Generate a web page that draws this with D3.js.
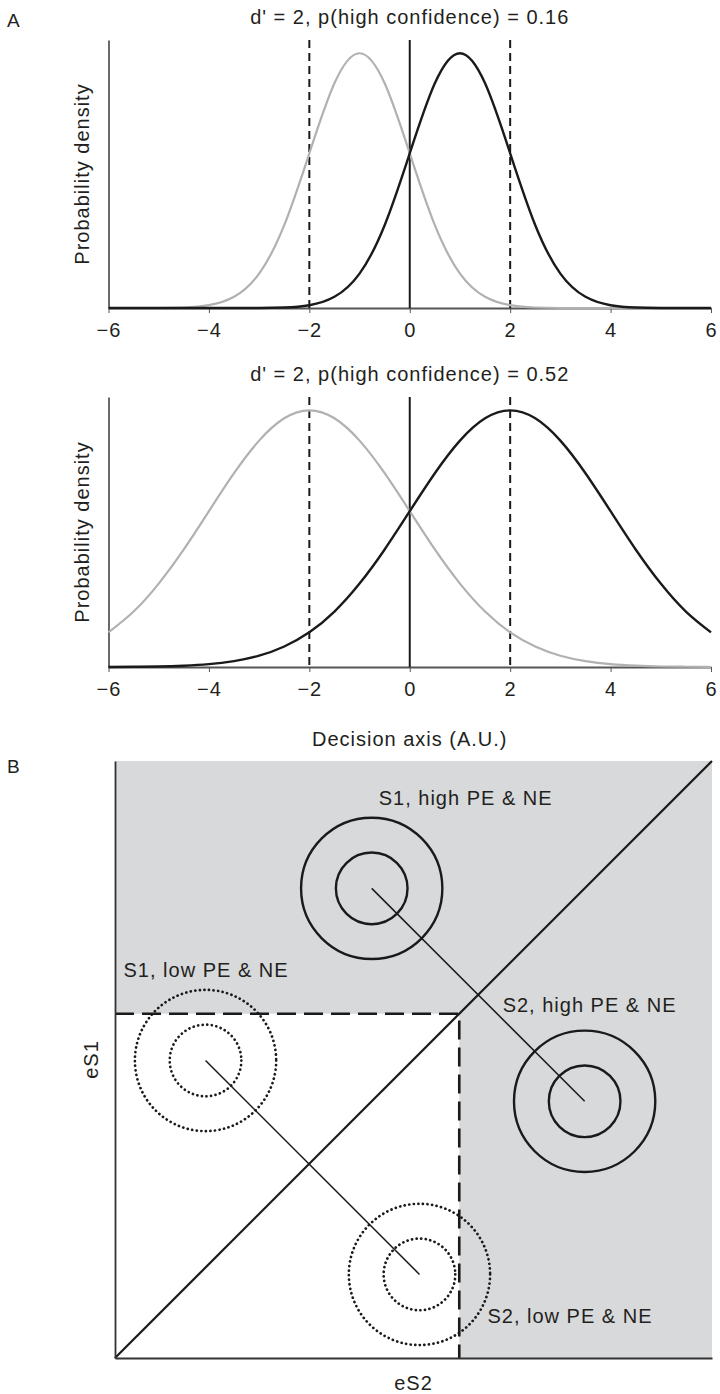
<!DOCTYPE html>
<html>
<head>
<meta charset="utf-8">
<script src="https://cdn.jsdelivr.net/npm/d3@7"></script>
<style>
  body { margin: 0; background: #fff; }
  svg text { font-family: "Liberation Sans", Arial, sans-serif; fill: #231f20; letter-spacing: 1px; }
</style>
</head>
<body>
<div id="chart"></div>
<script>
// Panel A: positions on the decision axis (A.U.)
const decisionX = [-6, -5.5, -5, -4.5, -4, -3.5, -3, -2.5, -2, -1.5, -1, -0.5, 0,
                   0.5, 1, 1.5, 2, 2.5, 3, 3.5, 4, 4.5, 5, 5.5, 6];
// curve heights as a fraction of each curve's peak
const narrowS1 = [0, 0, 0, 0.002, 0.011, 0.044, 0.135, 0.325, 0.607, 0.882, 1, 0.882, 0.607,
                  0.325, 0.135, 0.044, 0.011, 0.002, 0, 0, 0, 0, 0, 0, 0];
const narrowS2 = [0, 0, 0, 0, 0, 0, 0, 0.002, 0.011, 0.044, 0.135, 0.325, 0.607,
                  0.882, 1, 0.882, 0.607, 0.325, 0.135, 0.044, 0.011, 0.002, 0, 0, 0];
const wideS1 = [0.135, 0.216, 0.325, 0.458, 0.607, 0.755, 0.882, 0.969, 1, 0.969, 0.882, 0.755, 0.607,
                0.458, 0.325, 0.216, 0.135, 0.08, 0.044, 0.023, 0.011, 0.005, 0.002, 0.001, 0];
const wideS2 = [0, 0.001, 0.002, 0.005, 0.011, 0.023, 0.044, 0.08, 0.135, 0.216, 0.325, 0.458, 0.607,
                0.755, 0.882, 0.969, 1, 0.969, 0.882, 0.755, 0.607, 0.458, 0.325, 0.216, 0.135];
const criteria = [-2, 0, 2];
const criterionDashed = [true, false, true];
const panelTitles = ["d' = 2, p(high confidence) = 0.16", "d' = 2, p(high confidence) = 0.52"];
const axisTicks = [-6, -4, -2, 0, 2, 4, 6];

// Panel B: evidence space (eS2 horizontal, eS1 vertical)
const threshold = 3.46;
const blobLabels = ["S1, high PE & NE", "S2, high PE & NE", "S1, low PE & NE", "S2, low PE & NE"];
const blobES2 = [2.58, 4.72, 0.91, 3.06];
const blobES1 = [4.72, 2.58, 2.99, 0.84];
const blobHigh = [true, true, false, false];
const ringRadii = [0.36, 0.71];

const W = 720, H = 1394;
const FS = 20;
const svg = d3.select("#chart").append("svg")
    .attr("width", W)
    .attr("height", H);

const x = d3.scaleLinear().domain([-6, 6]).range([108.5, 711]);

const panels = [
  { top: 40, base: 308, s1: narrowS1, s2: narrowS2, title: panelTitles[0] },
  { top: 397, base: 667, s1: wideS1, s2: wideS2, title: panelTitles[1] }
];

svg.append("text").attr("x", 7).attr("y", 27).attr("font-size", 19).text("A");

panels.forEach(p => {
  const y = d3.scaleLinear().domain([0, 1.052]).range([p.base, p.top]);
  const g = svg.append("g");

  g.append("text")
      .attr("x", x(0))
      .attr("y", p.top - 16.5)
      .attr("text-anchor", "middle")
      .attr("font-size", FS)
      .text(p.title);

  g.append("text")
      .attr("transform", `translate(89,${(p.top + p.base) / 2}) rotate(-90)`)
      .attr("text-anchor", "middle")
      .attr("font-size", FS)
      .text("Probability density");

  // x axis
  g.append("g")
      .attr("transform", `translate(0,${p.base})`)
      .call(d3.axisBottom(x).tickValues(axisTicks).tickSize(5).tickSizeOuter(0).tickPadding(10))
      .attr("font-size", FS)
      .attr("font-family", null)
      .call(a => a.select(".domain").attr("stroke", "#555").attr("stroke-width", 2))
      .call(a => a.selectAll(".tick line").attr("stroke", "#555"));

  // y axis, no ticks
  g.append("g")
      .attr("transform", `translate(${x(-6)},0)`)
      .call(d3.axisLeft(y).tickValues([]).tickSizeOuter(0))
      .call(a => a.select(".domain").attr("stroke", "#444").attr("stroke-width", 1.6));

  g.selectAll(".criterion")
    .data(criteria)
    .enter().append("line")
      .attr("class", "criterion")
      .attr("x1", d => x(d))
      .attr("x2", d => x(d))
      .attr("y1", y(1.052))
      .attr("y2", p.base)
      .attr("stroke", "#1a1a1a")
      .attr("stroke-width", 2)
      .attr("stroke-dasharray", (d, i) => criterionDashed[i] ? "8,5" : null);

  const line = d3.line()
      .x((d, i) => x(decisionX[i]))
      .y(d => y(d))
      .curve(d3.curveNatural);

  g.append("path")
      .attr("d", line(p.s1))
      .attr("fill", "none")
      .attr("stroke", "#b1b1b1")
      .attr("stroke-width", 2.2);

  g.append("path")
      .attr("d", line(p.s2))
      .attr("fill", "none")
      .attr("stroke", "#1a1a1a")
      .attr("stroke-width", 2.4);
});

svg.append("text")
    .attr("x", x(0))
    .attr("y", 746)
    .attr("text-anchor", "middle")
    .attr("font-size", FS)
    .text("Decision axis (A.U.)");

// ---- Panel B ----
svg.append("text").attr("x", 7).attr("y", 773).attr("font-size", 19).text("B");

const bx = d3.scaleLinear().domain([0, 6]).range([115, 712]);
const by = d3.scaleLinear().domain([0, 6]).range([1358, 761]);
const gb = svg.append("g");

gb.append("rect")
    .attr("x", bx(0)).attr("y", by(6))
    .attr("width", bx(6) - bx(0)).attr("height", by(0) - by(6))
    .attr("fill", "#d8d9db");

gb.append("rect")
    .attr("x", bx(0)).attr("y", by(threshold))
    .attr("width", bx(threshold) - bx(0)).attr("height", by(0) - by(threshold))
    .attr("fill", "#fff");

gb.append("line")
    .attr("x1", bx(0)).attr("y1", by(0))
    .attr("x2", bx(6)).attr("y2", by(6))
    .attr("stroke", "#1a1a1a")
    .attr("stroke-width", 2.2);

gb.append("path")
    .attr("d", `M${bx(0)},${by(threshold)}H${bx(threshold)}V${by(0)}`)
    .attr("fill", "none")
    .attr("stroke", "#1a1a1a")
    .attr("stroke-width", 2.6)
    .attr("stroke-dasharray", "19,8");

const blobs = blobLabels.map((label, i) => ({
  label: label, es2: blobES2[i], es1: blobES1[i], high: blobHigh[i]
}));

// lines joining S1 and S2 of same confidence level
[[0, 1], [2, 3]].forEach(pair => {
  gb.append("line")
      .attr("x1", bx(blobs[pair[0]].es2)).attr("y1", by(blobs[pair[0]].es1))
      .attr("x2", bx(blobs[pair[1]].es2)).attr("y2", by(blobs[pair[1]].es1))
      .attr("stroke", "#1a1a1a")
      .attr("stroke-width", 1.5);
});

blobs.forEach(b => {
  gb.selectAll(null)
    .data(ringRadii)
    .enter().append("circle")
      .attr("cx", bx(b.es2))
      .attr("cy", by(b.es1))
      .attr("r", d => bx(d) - bx(0))
      .attr("fill", "none")
      .attr("stroke", "#1a1a1a")
      .attr("stroke-width", b.high ? 2.4 : 2.7)
      .attr("stroke-linecap", b.high ? null : "round")
      .attr("stroke-dasharray", b.high ? null : "0.1,4.5");
});

// label offsets from ring centre (px)
const labelOffsets = [[7, -83], [-82, -89.5], [-82, -83.5], [68, 48.5]];
blobs.forEach((b, i) => {
  gb.append("text")
      .attr("x", bx(b.es2) + labelOffsets[i][0])
      .attr("y", by(b.es1) + labelOffsets[i][1])
      .attr("font-size", FS)
      .text(b.label);
});

gb.append("g")
    .attr("transform", `translate(${bx(0)},0)`)
    .call(d3.axisLeft(by).tickValues([]).tickSizeOuter(0))
    .call(a => a.select(".domain").attr("stroke", "#333").attr("stroke-width", 1.8));

gb.append("g")
    .attr("transform", `translate(0,${by(0)})`)
    .call(d3.axisBottom(bx).tickValues([]).tickSizeOuter(0))
    .call(a => a.select(".domain").attr("stroke", "#333").attr("stroke-width", 1.8));

gb.append("text")
    .attr("x", bx(3))
    .attr("y", 1390)
    .attr("text-anchor", "middle")
    .attr("font-size", FS)
    .text("eS2");

gb.append("text")
    .attr("transform", `translate(98,${by(3)}) rotate(-90)`)
    .attr("text-anchor", "middle")
    .attr("font-size", FS)
    .text("eS1");
</script>
</body>
</html>
